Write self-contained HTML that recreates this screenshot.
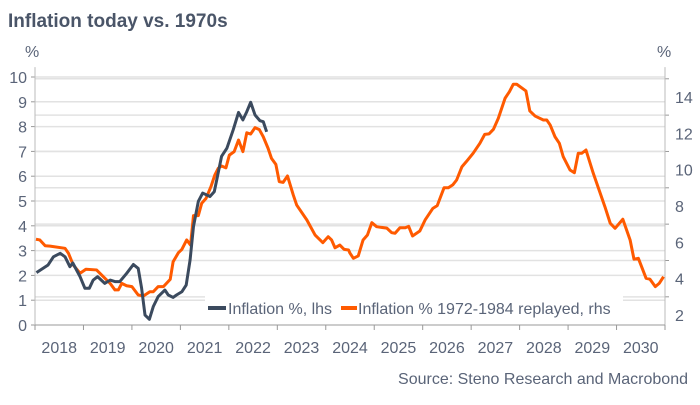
<!DOCTYPE html>
<html><head><meta charset="utf-8"><style>
body{margin:0;background:#fff;}
svg text{font-family:"Liberation Sans",sans-serif;}
</style></head><body>
<svg id="chart" width="700" height="400" viewBox="0 0 700 400" xmlns="http://www.w3.org/2000/svg">
<text x="8" y="27" font-size="19" font-weight="bold" fill="#4a5568">Inflation today vs. 1970s</text>
<text x="25" y="57" font-size="16" fill="#5a6478">%</text>
<text x="657" y="57" font-size="16" fill="#5a6478">%</text>
<g id="grid"></g><g id="axes"></g><g id="series"></g>
<g>
<rect x="205" y="296" width="418" height="24" fill="#fff"/>
<line x1="208" y1="308" x2="226" y2="308" stroke="#3b4a5e" stroke-width="4"/>
<text x="228" y="314" font-size="16" fill="#5a6478">Inflation %, lhs</text>
<line x1="341" y1="308" x2="357" y2="308" stroke="#ff5a00" stroke-width="4"/>
<text x="358" y="314" font-size="16" fill="#5a6478">Inflation % 1972-1984 replayed, rhs</text>
</g>
<text x="688" y="384" font-size="16" fill="#5a6478" text-anchor="end">Source: Steno Research and Macrobond</text>
</svg>
<script>
const years=[2018,2019,2020,2021,2022,2023,2024,2025,2026,2027,2028,2029,2030];
const leftTicks=[0,1,2,3,4,5,6,7,8,9,10];
const rightTicks=[2,4,6,8,10,12,14];
const lhsT=[2018.03,2018.27,2018.38,2018.52,2018.62,2018.72,2018.78,2018.93,2019.03,2019.12,2019.2,2019.29,2019.44,2019.55,2019.65,2019.75,2019.89,2020.03,2020.13,2020.2,2020.27,2020.36,2020.44,2020.54,2020.68,2020.75,2020.85,2020.92,2021.03,2021.12,2021.2,2021.27,2021.37,2021.46,2021.61,2021.7,2021.75,2021.85,2021.96,2022.09,2022.2,2022.29,2022.37,2022.45,2022.54,2022.64,2022.71,2022.78];
const lhsV=[2.11,2.42,2.75,2.89,2.75,2.35,2.5,1.95,1.48,1.48,1.81,1.95,1.68,1.81,1.75,1.75,2.08,2.44,2.28,1.48,0.4,0.23,0.74,1.14,1.41,1.21,1.11,1.21,1.34,1.61,2.62,3.97,4.98,5.32,5.18,5.38,5.85,6.8,7.13,7.87,8.57,8.27,8.6,8.98,8.47,8.24,8.2,7.79];
const rhsT=[2018.02,2018.1,2018.21,2018.31,2018.62,2018.69,2018.79,2018.93,2019.05,2019.27,2019.41,2019.55,2019.65,2019.72,2019.79,2019.89,2020.0,2020.13,2020.24,2020.37,2020.44,2020.54,2020.65,2020.79,2020.85,2020.96,2021.03,2021.13,2021.21,2021.27,2021.37,2021.44,2021.53,2021.63,2021.71,2021.78,2021.85,2021.94,2022.01,2022.11,2022.2,2022.29,2022.37,2022.45,2022.54,2022.63,2022.71,2022.81,2022.88,2022.97,2023.04,2023.12,2023.21,2023.33,2023.4,2023.61,2023.78,2023.94,2024.05,2024.12,2024.19,2024.29,2024.38,2024.47,2024.5,2024.57,2024.67,2024.77,2024.86,2024.95,2025.05,2025.26,2025.36,2025.43,2025.53,2025.64,2025.71,2025.79,2025.94,2026.05,2026.21,2026.3,2026.44,2026.53,2026.62,2026.7,2026.81,2026.9,2027.04,2027.18,2027.28,2027.37,2027.46,2027.56,2027.7,2027.79,2027.87,2027.94,2028.13,2028.21,2028.32,2028.49,2028.56,2028.63,2028.73,2028.82,2028.9,2029.04,2029.13,2029.21,2029.28,2029.37,2029.52,2029.76,2029.87,2029.97,2030.13,2030.28,2030.36,2030.45,2030.61,2030.69,2030.8,2030.88,2030.97];
const rhsV=[6.17,6.13,5.81,5.79,5.67,5.4,4.75,4.3,4.52,4.48,4.11,3.74,3.38,3.38,3.74,3.61,3.56,3.1,3.05,3.28,3.28,3.56,3.56,3.96,4.93,5.43,5.61,6.13,5.85,7.47,7.47,8.15,8.42,9.06,9.7,10.07,10.2,10.1,10.8,10.99,11.63,10.99,12.03,11.96,12.31,12.2,11.81,11.17,10.62,10.29,9.34,9.3,9.65,8.6,8.05,7.23,6.4,5.98,6.31,6.13,5.7,5.85,5.61,5.58,5.4,5.12,5.25,6.13,6.4,7.08,6.86,6.78,6.53,6.5,6.8,6.8,6.88,6.35,6.62,7.23,7.87,8.02,9.0,9.0,9.16,9.43,10.16,10.44,10.9,11.45,11.94,11.97,12.22,12.82,13.93,14.29,14.7,14.7,14.33,13.23,12.95,12.73,12.73,12.46,11.81,11.45,10.71,9.98,9.83,10.9,10.9,11.08,9.8,7.96,7.05,6.77,7.27,6.13,5.07,5.12,4.02,3.97,3.56,3.74,4.11];
const NS="http://www.w3.org/2000/svg";
const X0=35,X1=665;
const xs=t=>X0+(t-2018)*(X1-X0)/13;
const yl=v=>325-v*24.8;
const yr=v=>315-(v-2)*18.17;
function mk(tag,attrs,parent){const e=document.createElementNS(NS,tag);for(const k in attrs)e.setAttribute(k,attrs[k]);document.getElementById(parent).appendChild(e);return e;}
leftTicks.forEach(v=>{if(v>0){const g=mk('line',{x1:X0,x2:X1,y1:yl(v),y2:yl(v),stroke:'#e2e2e2','stroke-width':1.5},'grid');

}
const tk=mk('line',{x1:X0-4,x2:X0,y1:yl(v),y2:yl(v),stroke:'#999'},'axes');


const t=mk('text',{x:X0-8,y:yl(v)+6,'font-size':16,fill:'#5a6478','text-anchor':'end'},'axes');t.textContent=v;

});
rightTicks.forEach(v=>{const g=mk('line',{x1:X0,x2:X1,y1:yr(v+1),y2:yr(v+1),stroke:'#e2e2e2','stroke-width':1.5},'grid');


const tk=mk('line',{x1:X1,x2:X1+4,y1:yr(v+1),y2:yr(v+1),stroke:'#999'},'axes');


const t=mk('text',{x:X1+10,y:yr(v)+6,'font-size':16,fill:'#5a6478'},'axes');t.textContent=v;

});
let a=mk('line',{x1:X0,x2:X0,y1:yl(10.4),y2:yl(0),stroke:'#bbb'},'axes');


a=mk('line',{x1:X1,x2:X1,y1:yl(10.4),y2:yl(0),stroke:'#bbb'},'axes');


a=mk('line',{x1:X0,x2:X1,y1:yl(0),y2:yl(0),stroke:'#999'},'axes');


years.concat([2031]).forEach(y=>{const tk=mk('line',{x1:xs(y),x2:xs(y),y1:325,y2:330,stroke:'#999'},'axes');

});
years.forEach(y=>{const t=mk('text',{x:xs(y+0.5),y:353,'font-size':16,fill:'#5a6478','text-anchor':'middle'},'axes');t.textContent=y;

});
let p=mk('polyline',{points:rhsT.map((t,i)=>xs(t)+','+yr(rhsV[i])).join(' '),fill:'none',stroke:'#ff5a00','stroke-width':3,'stroke-linejoin':'round'},'series');


p=mk('polyline',{points:lhsT.map((t,i)=>xs(t)+','+yl(lhsV[i])).join(' '),fill:'none',stroke:'#3b4a5e','stroke-width':3,'stroke-linejoin':'round'},'series');


</script>
</body></html>
